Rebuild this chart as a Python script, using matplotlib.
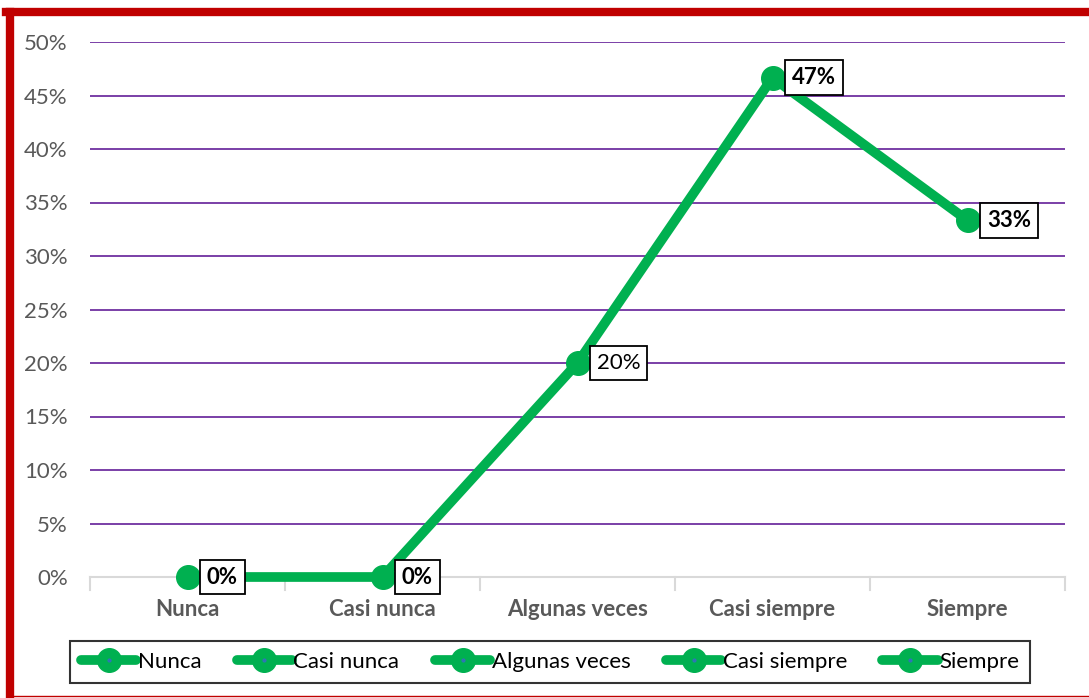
import matplotlib.pyplot as plt
from matplotlib.lines import Line2D

categories = ['Nunca', 'Casi nunca', 'Algunas veces', 'Casi siempre', 'Siempre']
values = [0.0, 0.0, 0.20, 0.4667, 0.3333]
labels = ['0%', '0%', '20%', '47%', '33%']
bold = [True, True, False, True, True]
yticks = [0, 0.05, 0.10, 0.15, 0.20, 0.25, 0.30, 0.35, 0.40, 0.45, 0.50]

green = '#00B050'
plt.rcParams['font.family'] = ['Lato', 'DejaVu Sans']

W, H = 1089, 698
fig = plt.figure(figsize=(W / 100, H / 100), dpi=100)
ax = fig.add_axes([90 / W, 1 - 577 / H, (1065 - 90) / W, (577 - 42) / H])

x = list(range(len(categories)))
ax.plot(x, values, color=green, lw=7, marker='o', ms=17, solid_capstyle='round',
        zorder=3, clip_on=False)

for xi, v, lab, b in zip(x, values, labels, bold):
    ax.annotate(lab, (xi, v), xytext=(14, 0), textcoords='offset points',
                ha='left', va='center', fontsize=16, color='black',
                fontweight='bold' if b else 'normal', zorder=5,
                bbox=dict(boxstyle='square,pad=0.3', fc='white', ec='black', lw=1.3))

ax.set_xlim(-0.5, 4.5)
ax.set_ylim(0, 0.5)
ax.set_yticks(yticks)
ax.set_yticklabels([f'{int(round(t * 100))}%' for t in yticks], fontsize=16, color='#595959')
ax.set_xticks(x)
ax.set_xticklabels(categories, fontsize=16, color='#595959', fontweight='bold')
ax.tick_params(axis='y', length=0, pad=16)
ax.tick_params(axis='x', length=0, pad=16)
for t in yticks[1:]:
    ax.axhline(t, color='#7030A0', lw=1.3, zorder=1)
for s in ['top', 'right', 'left']:
    ax.spines[s].set_visible(False)
ax.spines['bottom'].set_color('#D9D9D9')
ax.spines['bottom'].set_linewidth(1.5)
for b in [-0.5, 0.5, 1.5, 2.5, 3.5, 4.5]:
    ax.plot([b, b], [0, -0.012], color='#D9D9D9', lw=1.5, clip_on=False)

handles = [(Line2D([0], [0], color=green, lw=7, marker='o', ms=17, solid_capstyle='round'),
            Line2D([0], [0], ls='none', marker='o', ms=2, color='#2E75B6'))
           for _ in categories]
leg = fig.legend(handles, categories, loc='center', ncol=5,
                 bbox_to_anchor=(550 / W, 1 - 662 / H), fontsize=16,
                 frameon=True, fancybox=False, edgecolor='black',
                 handlelength=2.5, handletextpad=0.05, columnspacing=1.6,
                 borderpad=0.5)
leg.get_frame().set_linewidth(1.5)

# red border around chart
fig.add_artist(Line2D([10 / W, 10 / W], [1 - 12 / H, 0], color='#C00000', lw=6,
                      transform=fig.transFigure))
fig.add_artist(Line2D([6 / W, 1], [1 - 12 / H, 1 - 12 / H], color='#C00000', lw=6,
                      transform=fig.transFigure))
fig.add_artist(Line2D([10 / W, 1], [1 - 696 / H, 1 - 696 / H], color='#C00000', lw=1,
                      transform=fig.transFigure))

fig.savefig('out.png', dpi=100)
